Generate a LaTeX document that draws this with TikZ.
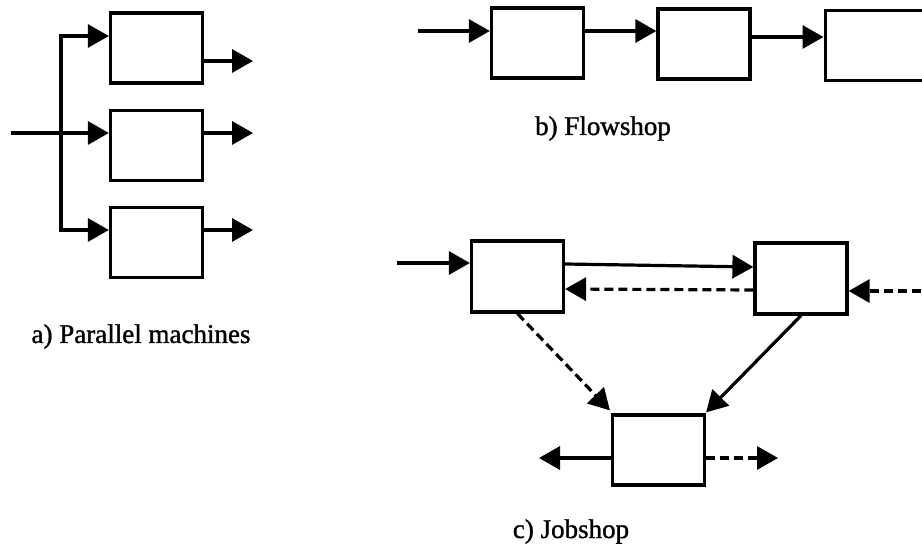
\documentclass[tikz,border=0pt]{standalone}
\usepackage{fontspec}
\setmainfont{Liberation Serif}
\newfontfamily\labelfont{Liberation Serif}[FakeBold=1.2]
\usetikzlibrary{arrows.meta}

\tikzset{
  machine/.style={draw=black, line width=3.2pt, minimum width=92pt, minimum height=70pt, inner sep=0pt, fill=white},
  flow/.style={line width=3.2pt, -{Triangle[length=21pt,width=23pt]}},
  link/.style={line width=3.2pt},
  backflow/.style={flow, dash pattern=on 9pt off 5pt},
  caption/.style={anchor=base, inner sep=0pt, font=\labelfont\fontsize{27}{32}\selectfont}
}

\begin{document}
\begin{tikzpicture}[x=1pt, y=-1pt]
  \useasboundingbox (0,0) rectangle (922,548);
  \clip (0,0) rectangle (922,548);

  % ---- a) parallel machines ----
  \node[machine] (a1) at (156.5, 48) {};
  \node[machine] (a2) at (156.5,145.5) {};
  \node[machine] (a3) at (156.5,242.5) {};
  \coordinate (ain) at (11,133);
  \coordinate (atop) at (61,36);
  \coordinate (amid) at (61,133);
  \coordinate (abot) at (61,230);
  \coordinate (aout1) at (253,61);
  \coordinate (aout2) at (253,133);
  \coordinate (aout3) at (253,230);

  \draw[link, line cap=rect] (atop) -- (abot);
  \draw[flow] (ain) -- (ain -| a2.west);
  \draw[flow] (atop) -- (atop -| a1.west);
  \draw[flow] (abot) -- (abot -| a3.west);
  \draw[flow] (aout1 -| a1.east) -- (aout1);
  \draw[flow] (aout2 -| a2.east) -- (aout2);
  \draw[flow] (aout3 -| a3.east) -- (aout3);
  \node[caption] (acap) at (141,343) {a) Parallel machines};

  % ---- b) flowshop ----
  \node[machine] (b1) at (537.5,43) {};
  \node[machine] (b2) at (704,44) {};
  \node[machine, minimum width=110pt, anchor=west] (b3) at (823.5,45.5) {};
  \coordinate (bin) at (418,31);
  \draw[flow] (bin) -- (bin -| b1.west);
  \draw[flow] ([yshift=12pt]b1.east) -- ([yshift=12pt]b1.east -| b2.west);
  \draw[flow] ([yshift=7pt]b2.east) -- ([yshift=7pt]b2.east -| b3.west);
  \node[caption] (bcap) at (603,135) {b) Flowshop};

  % ---- c) jobshop ----
  \node[machine, minimum height=71pt] (c1) at (517.5,276.5) {};
  \node[machine, minimum height=71pt] (c2) at (801,278.5) {};
  \node[machine] (c3) at (658.5,450) {};
  \coordinate (cin) at (397,263);
  \coordinate (cright) at (935,291);
  \coordinate (cleft) at (539,458);
  \coordinate (cout) at (778,458);

  \draw[flow] (cin) -- (cin -| c1.west);
  \draw[flow] ([yshift=12.5pt]c1.east) -- ([yshift=11.5pt]c2.west);
  \draw[backflow] ([yshift=-11.5pt]c2.west) -- ([yshift=-12.5pt]c1.east);
  \draw[backflow] (cright) -- (cright -| c2.east);
  \draw[backflow] (c1.south) -- ([shift={(-1pt,3pt)}]c3.north west);
  \draw[flow] (c2.south) -- ([shift={(0pt,1pt)}]c3.north east);
  \draw[flow] (cleft -| c3.west) -- (cleft);
  \draw[backflow] (cout -| c3.east) -- (cout);
  \node[caption] (ccap) at (571,538) {c) Jobshop};
\end{tikzpicture}
\end{document}
